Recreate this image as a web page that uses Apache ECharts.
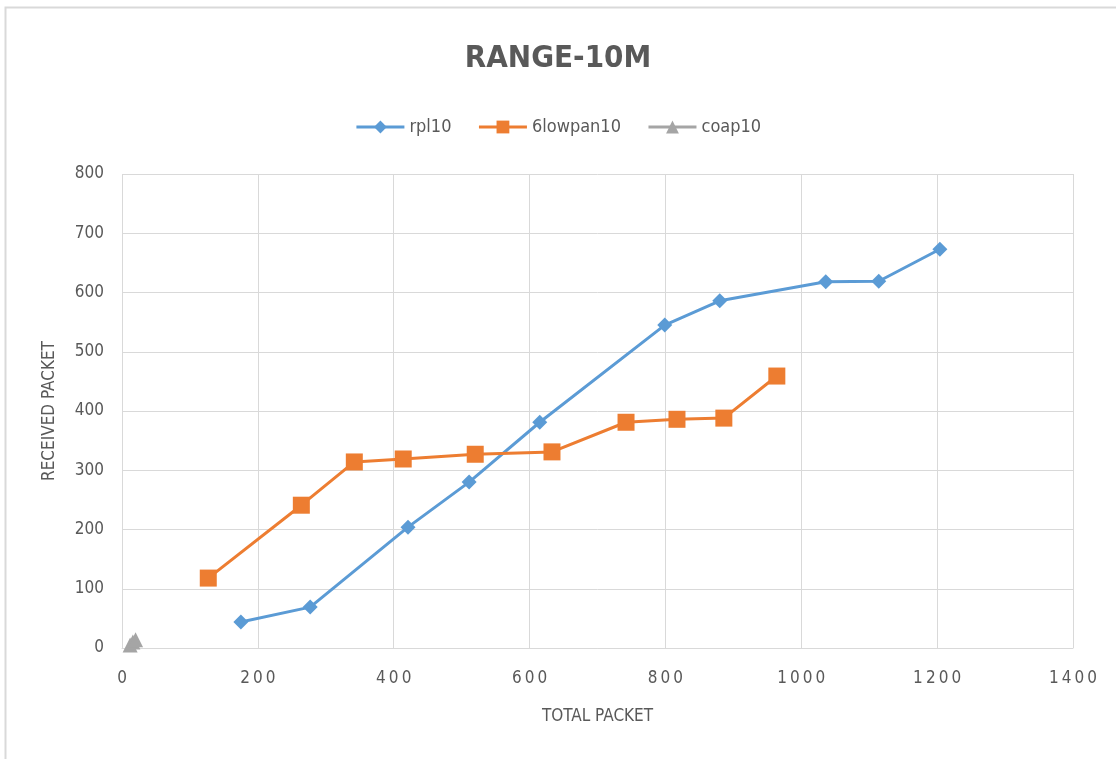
<!DOCTYPE html>
<html><head><meta charset="utf-8">
<script src="https://cdn.jsdelivr.net/npm/echarts@6/dist/echarts.min.js"></script>
<style>html,body{margin:0;padding:0;background:#fff}#c{width:1116px;height:759px}</style>
</head><body><div id="c"></div>
<script>
const titleText = 'RANGE-10M';
const xTicks = [0, 200, 400, 600, 800, 1000, 1200, 1400];
const yTicks = [0, 100, 200, 300, 400, 500, 600, 700, 800];
const rplX = [175, 277, 421, 511, 615, 799, 880, 1036, 1114, 1204];
const rplY = [44, 69, 204, 280, 381, 545, 586, 618, 619, 673];
const lowpanX = [127, 264, 342, 414, 520, 633, 742, 817, 886, 964];
const lowpanY = [118, 241, 314, 319, 327, 331, 381, 386, 388, 459];
const coapX = [12, 16, 20];
const coapY = [5, 10, 14];

const font = '"Liberation Sans Narrow", "DejaVu Sans Condensed", "Open Sans", sans-serif';
const pair = (xs, ys) => xs.map((x, i) => [x, ys[i]]);
const chart = echarts.init(document.getElementById('c'));
chart.setOption({
  animation: false,
  backgroundColor: '#fff',
  graphic: [
    {type: 'polyline', shape: {points: [[5.5, 759], [5.5, 7.5], [1116, 7.5]]}, style: {stroke: '#d9d9d9', lineWidth: 2, fill: null}}
  ],
  title: {text: titleText, left: 'center', top: 38,
    textStyle: {fontFamily: font, fontSize: 31, fontWeight: 'bold', color: '#595959'}},
  legend: {top: 113, left: 'center', itemWidth: 48, itemHeight: 16, itemGap: 26,
    lineStyle: {width: 3},
    textStyle: {fontFamily: font, fontSize: 18, color: '#595959'},
    data: ['rpl10', '6lowpan10', 'coap10']},
  grid: {left: 122, right: 43, top: 174, bottom: 111},
  xAxis: {type: 'value', min: 0, max: 1400, interval: 200,
    name: 'TOTAL PACKET', nameLocation: 'middle', nameGap: 60,
    nameTextStyle: {fontFamily: font, fontSize: 17, color: '#595959'},
    axisLine: {show: true, lineStyle: {color: '#d9d9d9'}}, axisTick: {show: false},
    axisLabel: {fontFamily: font, fontSize: 17, color: '#595959', margin: 22,
      formatter: v => xTicks.includes(v) ? String(v).split('').join('\u2009') : ''},
    splitLine: {show: true, lineStyle: {color: '#d9d9d9'}}},
  yAxis: {type: 'value', min: 0, max: 800, interval: 100,
    name: 'RECEIVED PACKET', nameLocation: 'middle', nameGap: 64,
    nameTextStyle: {fontFamily: font, fontSize: 17, color: '#595959'},
    axisLine: {show: false}, axisTick: {show: false},
    axisLabel: {fontFamily: font, fontSize: 17, color: '#595959', margin: 18,
      formatter: v => yTicks.includes(v) ? String(v) : ''},
    splitLine: {show: true, lineStyle: {color: '#d9d9d9'}}},
  series: [
    {name: 'rpl10', type: 'line', data: pair(rplX, rplY), symbol: 'diamond', symbolSize: 15,
      lineStyle: {width: 3, color: '#5B9BD5'}, itemStyle: {color: '#5B9BD5'}},
    {name: '6lowpan10', type: 'line', data: pair(lowpanX, lowpanY), symbol: 'rect', symbolSize: 17,
      lineStyle: {width: 3, color: '#ED7D31'}, itemStyle: {color: '#ED7D31'}},
    {name: 'coap10', type: 'line', data: pair(coapX, coapY), symbol: 'triangle', symbolSize: 15,
      lineStyle: {width: 3, color: '#A5A5A5'}, itemStyle: {color: '#A5A5A5'}}
  ]
});
</script></body></html>
